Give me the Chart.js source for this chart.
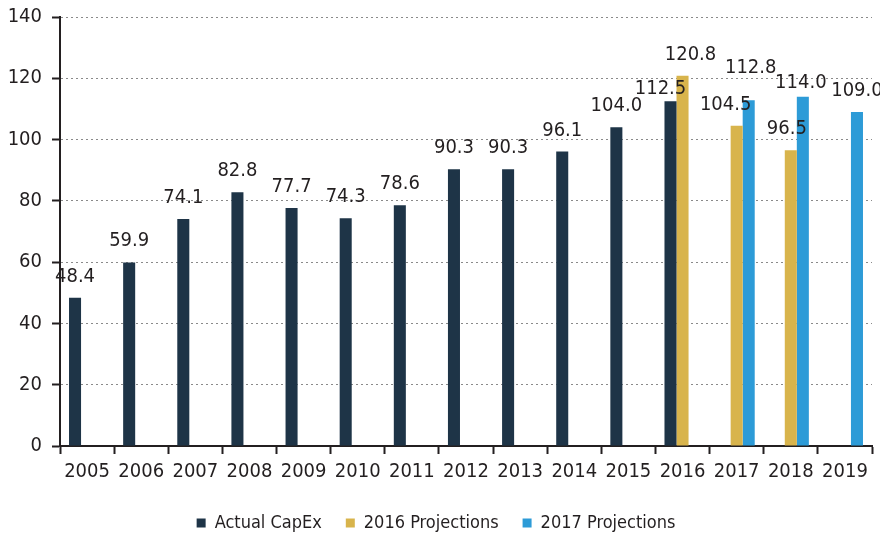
<!DOCTYPE html>
<html>
<head>
<meta charset="utf-8">
<script src="https://cdn.jsdelivr.net/npm/chart.js@4/dist/chart.umd.min.js"></script>
<style>
    body { margin: 0; background: #fff; }
    canvas { display: block; }
</style>
</head>
<body>
<canvas id="capex" width="880" height="535"></canvas>
<script>
// chart values
var years = ['2005', '2006', '2007', '2008', '2009', '2010', '2011', '2012',
    '2013', '2014', '2015', '2016', '2017', '2018', '2019'];
var actualCapex = [48.4, 59.9, 74.1, 82.8, 77.7, 74.3, 78.6, 90.3, 90.3, 96.1, 104.0, 112.5, null, null, null];
var projections2016 = [null, null, null, null, null, null, null, null, null, null, null, 120.8, 104.5, 96.5, null];
var projections2017 = [null, null, null, null, null, null, null, null, null, null, null, null, 112.8, 114.0, 109.0];
var yTicks = [0, 20, 40, 60, 80, 100, 120, 140];

var FONT = "'DejaVu Sans Condensed', 'DejaVu Sans', sans-serif";
var TEXT = '#231f20';

// numbers above each bar, a few nudged apart where they crowd (dataset-index: [dx, dy])
var labelNudge = {
    '0-11': [-10, 9],
    '1-11': [8, 0],
    '1-12': [-11, 0],
    '2-12': [2, -11],
    '2-13': [-2, 7],
    '1-13': [-4, 0]
};

var barLabels = {
    id: 'barLabels',
    afterDatasetsDraw: function (chart) {
        let ctx = chart.ctx;
        ctx.save();
        ctx.font = '20px ' + FONT;
        ctx.fillStyle = TEXT;
        ctx.textAlign = 'center';
        ctx.textBaseline = 'alphabetic';
        chart.data.datasets.forEach(function (ds, i) {
            let meta = chart.getDatasetMeta(i);
            meta.data.forEach(function (bar, j) {
                let v = ds.data[j];
                if (v === null) return;
                let n = labelNudge[i + '-' + j] || [0, 0];
                ctx.fillText(v.toFixed(1), bar.x + n[0], bar.y - 16 + n[1]);
            });
        });
        ctx.restore();
    }
};

new Chart(document.getElementById('capex'), {
    type: 'bar',
    data: {
        labels: years,
        datasets: [{
            label: 'Actual CapEx',
            data: actualCapex,
            backgroundColor: '#1e3447'
        }, {
            label: '2016 Projections',
            data: projections2016,
            backgroundColor: '#d8b44c'
        }, {
            label: '2017 Projections',
            data: projections2017,
            backgroundColor: '#2d9bd7'
        }]
    },
    options: {
        responsive: false,
        animation: false,
        categoryPercentage: 0.667,
        barPercentage: 1,
        layout: { padding: { left: 0, right: 8, top: 17, bottom: -7 } },
        plugins: {
            tooltip: { enabled: false },
            legend: {
                position: 'bottom',
                labels: {
                    font: { family: FONT, size: 18 },
                    color: TEXT,
                    boxWidth: 9,
                    boxHeight: 9,
                    padding: 24
                }
            }
        },
        scales: {
            x: {
                grid: {
                    offset: true,
                    drawOnChartArea: false,
                    tickLength: 8,
                    tickColor: '#231f20',
                    tickWidth: 2
                },
                border: { color: '#231f20', width: 2 },
                ticks: {
                    font: { family: FONT, size: 20 },
                    color: TEXT,
                    padding: 6,
                    maxRotation: 0,
                    autoSkip: false
                }
            },
            y: {
                min: 0,
                max: 140,
                afterFit: function (scale) {
                    scale.width = 60;
                    scale.paddingTop = 0;
                },
                afterBuildTicks: function (scale) {
                    scale.ticks = yTicks.map(function (v) { return { value: v }; });
                },
                grid: {
                    color: function (c) { return c.tick && c.tick.value === 0 ? 'rgba(0,0,0,0)' : '#8a8a8a'; },
                    lineWidth: 1,
                    tickLength: 8,
                    tickColor: '#231f20',
                    tickWidth: 2,
                    tickBorderDash: []
                },
                border: { color: '#231f20', width: 2, dash: [2, 3] },
                ticks: {
                    font: { family: FONT, size: 20 },
                    color: TEXT,
                    padding: 10
                }
            }
        }
    },
    plugins: [barLabels]
});
</script>
</body>
</html>
